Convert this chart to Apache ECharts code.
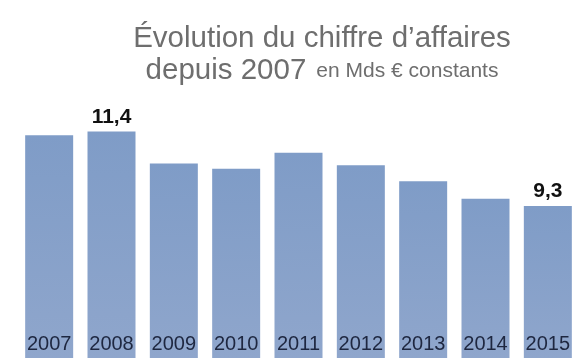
<!DOCTYPE html>
<html>
<head>
<meta charset="utf-8">
<script src="https://cdn.jsdelivr.net/npm/echarts@6/dist/echarts.min.js"></script>
<style>
  html, body { margin: 0; padding: 0; background: #ffffff; }
  #chart { width: 579px; height: 358px; }
</style>
</head>
<body>
<div id="chart"></div>
<script>
// Chiffre d'affaires annuel, en milliards d'euros constants
const years = ['2007', '2008', '2009', '2010', '2011', '2012', '2013', '2014', '2015'];
const revenue = [11.3, 11.4, 10.5, 10.35, 10.8, 10.45, 10.0, 9.5, 9.3];
// Années dont la valeur est affichée au-dessus de la barre
const labelledYears = ['2008', '2015'];

const chart = echarts.init(document.getElementById('chart'), null, { renderer: 'canvas' });

const fmt = v => String(v).replace('.', ',');

chart.setOption({
  backgroundColor: '#ffffff',
  animation: false,
  title: {
    text: '{a|Évolution du chiffre d’affaires}\n{a|depuis 2007}  {b|en Mds € constants}',
    left: 317,
    top: 18,
    textAlign: 'center',
    textStyle: {
      fontWeight: 'normal',
      rich: {
        a: { fontFamily: 'Liberation Sans, Arial, sans-serif', fontSize: 29.5, fontWeight: 'normal', color: '#6e6e6e', lineHeight: 32 },
        b: { fontFamily: 'Liberation Sans, Arial, sans-serif', fontSize: 21, fontWeight: 'normal', color: '#6e6e6e', lineHeight: 32 }
      }
    }
  },
  grid: { left: 18, right: -8, top: 75, bottom: -3 },
  xAxis: {
    type: 'category',
    data: years,
    axisLine: { show: false },
    axisTick: { show: false },
    axisLabel: {
      inside: true,
      margin: 4,
      verticalAlign: 'bottom',
      fontFamily: 'Liberation Sans, Arial, sans-serif',
      fontSize: 20,
      color: '#1e2740'
    },
    z: 10
  },
  yAxis: {
    type: 'value',
    min: 5,
    max: 13,
    show: false,
    splitLine: { show: false }
  },
  series: [{
    type: 'bar',
    barWidth: 48,
    data: revenue.map((v, i) => ({
      value: v,
      label: { show: labelledYears.includes(years[i]) }
    })),
    itemStyle: {
      color: new echarts.graphic.LinearGradient(0, 0, 0, 1, [
        { offset: 0, color: '#7f9cc7' },
        { offset: 1, color: '#8fa6cc' }
      ])
    },
    label: {
      position: 'top',
      distance: 4,
      formatter: p => fmt(p.value),
      fontFamily: 'Liberation Sans, Arial, sans-serif',
      fontWeight: 'bold',
      fontSize: 21,
      color: '#111111'
    }
  }]
});
</script>
</body>
</html>
